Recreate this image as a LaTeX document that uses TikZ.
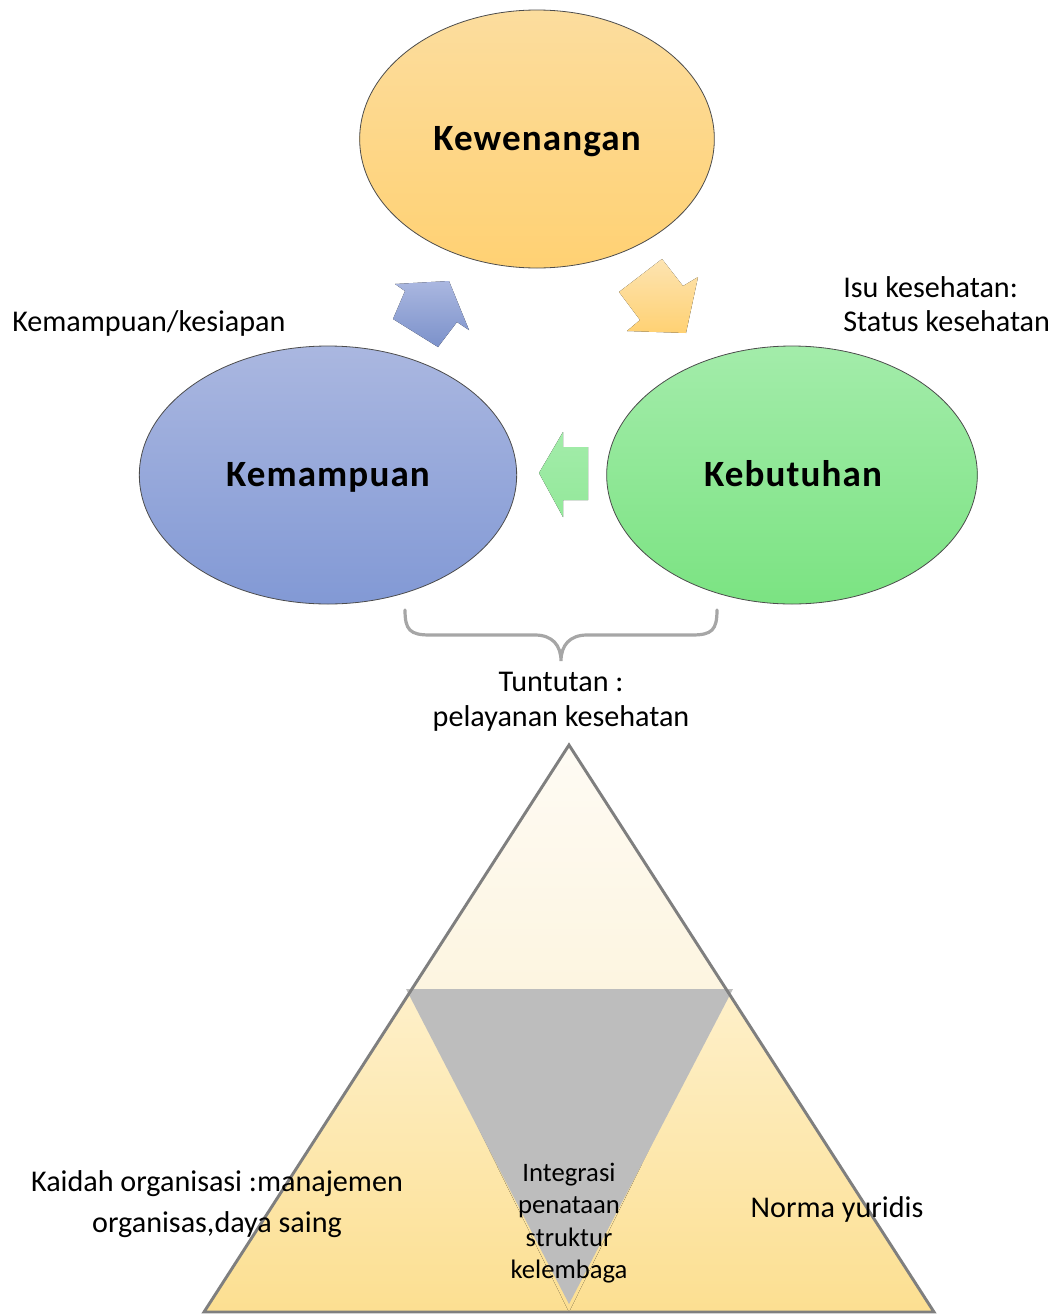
\documentclass[tikz,border=0pt]{standalone}
\usepackage{fontspec}
\setmainfont{Carlito}
\newfontfamily\boldlbl[LetterSpace=3]{Carlito Bold}
\usetikzlibrary{shapes.geometric}
\definecolor{ylTop}{HTML}{FCDD9E}
\definecolor{ylBot}{HTML}{FFD173}
\definecolor{blTop}{HTML}{AAB7E0}
\definecolor{blBot}{HTML}{8299D5}
\definecolor{grTop}{HTML}{A3ECAA}
\definecolor{grBot}{HTML}{7BE382}
\definecolor{edgeGray}{HTML}{7F7F7F}
\definecolor{braceGray}{HTML}{A6A6A6}
\definecolor{midGray}{HTML}{BDBDBD}
\definecolor{pyTopA}{HTML}{FEFBF4}
\definecolor{pyTopB}{HTML}{FDF5E0}
\definecolor{pyBotA}{HTML}{FEF0CA}
\definecolor{pyBotB}{HTML}{FCDF91}
\tikzset{
  circ/.style={ellipse, draw=black!70, line width=0.6pt, inner sep=0pt,
    font=\boldlbl\fontsize{27.8}{32}\selectfont},
  bodytxt/.style={inner sep=0pt, text height=20pt, text depth=6pt},
  lbl/.style={font=\fontsize{22.6}{27}\selectfont, inner sep=0pt},
  smalllbl/.style={font=\fontsize{20}{24.2}\selectfont, inner sep=0pt, align=center},
}
\begin{document}
\begin{tikzpicture}[x=0.75pt,y=-0.75pt]
\useasboundingbox (0,0) rectangle (1063,1314);

% ellipses
\node[circ, top color=ylTop, bottom color=ylBot, minimum width=266pt, minimum height=193.5pt] (kew) at (537,139) {};
\node[circ, top color=blTop, bottom color=blBot, minimum width=283pt, minimum height=193.5pt] (kem) at (328,475) {};
\node[circ, top color=grTop, bottom color=grBot, minimum width=278pt, minimum height=193.5pt] (keb) at (792,475) {};
\node[circ, draw=none, anchor=base] (kewt) at (537,150) {Kewenangan};
\node[circ, draw=none, anchor=base] (kemt) at (328,486) {Kemampuan};
\node[circ, draw=none, anchor=base] (kebt) at (793,486) {Kebutuhan};

% block arrows
\fill[top color=blTop, bottom color=blBot!95!black]
  (395,284) -- (449,281) -- (469,330) -- (457,322) -- (438,347) -- (393,319) -- (405,291) -- cycle;
\fill[top color=ylTop!80!white, bottom color=ylBot]
  (619,292) -- (662,259) -- (683,286) -- (698,277) -- (686,333) -- (627,331) -- (640,320) -- cycle;
\fill[top color=grTop, bottom color=grTop!60!grBot]
  (539,473) -- (563,432) -- (563,447) -- (588,447) -- (588,500) -- (563,500) -- (563,517) -- cycle;

% side labels
\node[lbl, anchor=west] (kes) at (12,323) {Kemampuan/kesiapan};
\node[lbl, anchor=west] (isu) at (843,287) {Isu kesehatan:};
\node[lbl, anchor=west] (sta) at (843,321) {Status kesehatan};

% brace
\coordinate (brL) at (405,610);
\coordinate (brR) at (717,610);
\coordinate (brT) at (561,661);
\draw[braceGray, line width=2.4pt, line cap=round]
  (brL) .. controls (405,630) and (410,635) .. (430,635) -- (535,635)
  .. controls (552,635) and (561,645) .. (brT)
  .. controls (561,645) and (570,635) .. (587,635) -- (692,635)
  .. controls (712,635) and (717,630) .. (brR);
\node[lbl] (tun) at (561,682) {Tuntutan :};
\node[lbl] (pel) at (561,718) {pelayanan kesehatan};

% pyramid
\coordinate (apex) at (569,745);
\coordinate (bl) at (204,1312);
\coordinate (br) at (934,1312);
\coordinate (ml) at (410.5,990);
\coordinate (mr) at (727.5,990);
\coordinate (bm) at (569,1312);
\fill[top color=pyTopA, bottom color=pyTopB] (apex) -- (mr) -- (ml) -- cycle;
\fill[top color=pyBotA, bottom color=pyBotB] (ml) -- (bm) -- (bl) -- cycle;
\fill[top color=pyBotA, bottom color=pyBotB] (mr) -- (br) -- (bm) -- cycle;
\fill[top color=pyBotA, bottom color=pyBotB] (ml) -- (mr) -- (bm) -- cycle;
\fill[midGray] (406,989) -- (733,989) -- (569,1304) -- cycle;
\draw[edgeGray, line width=2.2pt, line join=miter] (apex) -- (br) -- (bl) -- cycle;

\node[lbl] (kai1) at (217,1184) {Kaidah organisasi :manajemen};
\node[lbl] (kai2) at (217,1225) {organisas,daya saing};
\node[lbl] (nor) at (837,1209) {Norma yuridis};
\node[smalllbl] (int) at (569,1223) {Integrasi\\penataan\\struktur\\kelembaga};
\end{tikzpicture}
\end{document}
